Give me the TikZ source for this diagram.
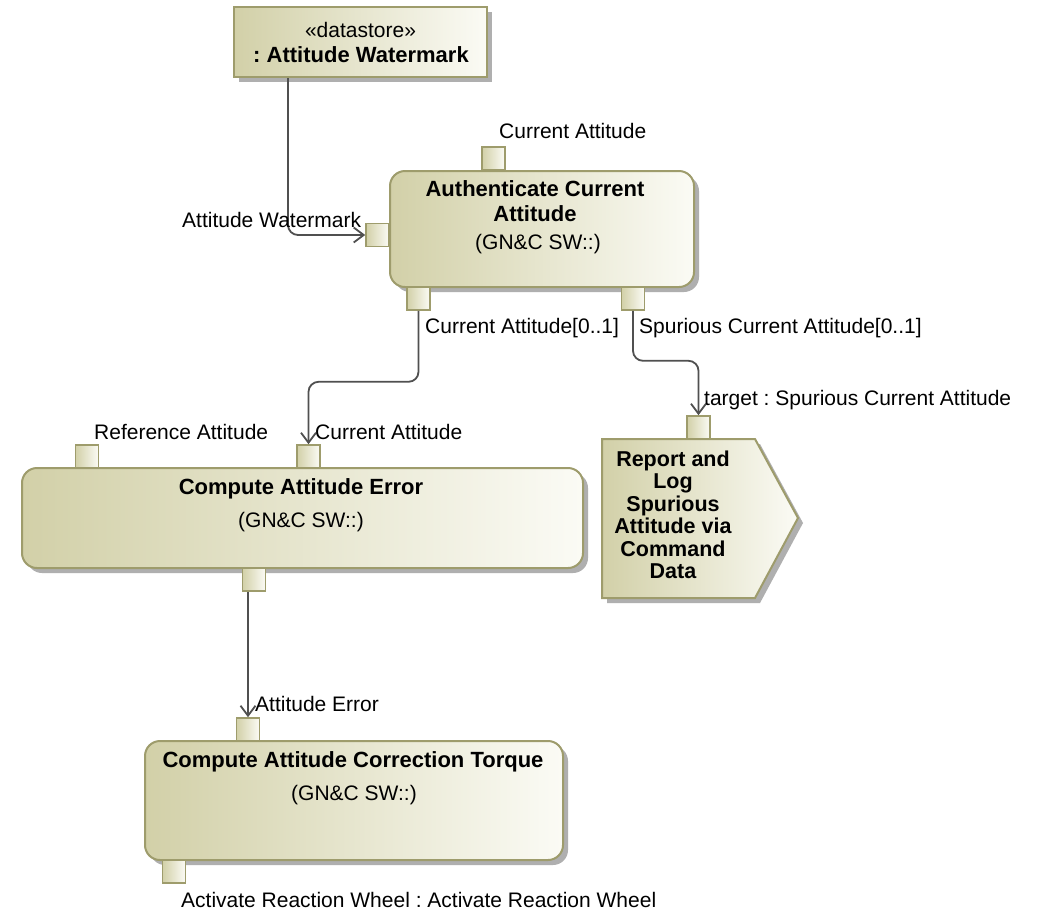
\documentclass[tikz,border=0pt]{standalone}
\usepackage{fontspec}
\setmainfont{Liberation Sans}
\usetikzlibrary{arrows.meta,shadows}
\frenchspacing

\definecolor{boxdark}{RGB}{210,208,168}
\definecolor{boxlight}{RGB}{251,251,245}
\definecolor{boxline}{RGB}{158,156,108}
\definecolor{shadowgray}{RGB}{175,175,175}
\definecolor{wire}{RGB}{80,80,80}

\tikzset{
  every node/.style={font=\fontsize{21}{25}\selectfont, inner sep=0pt},
  shaded box/.style={draw=boxline, line width=2pt, left color=boxdark, right color=boxlight},
  boxshadow/.style={drop shadow={shadow xshift=5pt, shadow yshift=-5pt, fill=shadowgray, opacity=1}},
  action/.style={shaded box, boxshadow, rounded corners=15pt},
  datastore/.style={shaded box, boxshadow},
  pin/.style={shaded box, line width=1.6pt, minimum size=23pt},
  title/.style={font=\bfseries\fontsize{22}{25}\selectfont, align=center},
  plain/.style={align=center},
  lbl/.style={anchor=west},
  flow/.style={draw=wire, line width=1.8pt, rounded corners=10pt,
    -{Straight Barb[length=10pt,width=15pt,line width=1.8pt]}}
}

\begin{document}
\begin{tikzpicture}[x=1pt,y=-1pt]
\useasboundingbox[fill=white] (0,0) rectangle (1038,914);

% object node: datastore
\node[datastore, minimum width=253pt, minimum height=70pt] (ds) at (360.5,42) {};
\node (dsK) at (360.5,30) {«datastore»};
\node[title] (dsN) at (361,55) {: Attitude Watermark};

% call behavior actions
\node[action, minimum width=304pt, minimum height=116pt] (auth) at (542,229) {};
\node[title] (authN1) at (535,189) {Authenticate Current};
\node[title] (authN2) at (535,214) {Attitude};
\node[plain] (authS) at (538,244) {(GN\&C SW::)};

\node[action, minimum width=561pt, minimum height=100pt] (err) at (302.5,518) {};
\node[title] (errN) at (301,489) {Compute Attitude Error};
\node[plain] (errS) at (301,522) {(GN\&C SW::)};

\node[action, minimum width=418pt, minimum height=119pt] (tq) at (354,800.5) {};
\node[title] (tqN) at (353,762) {Compute Attitude Correction Torque};
\node[plain] (tqS) at (354,795) {(GN\&C SW::)};

% send signal action
\path[shaded box, boxshadow] (602,439) -- (755,439) -- (798,518) -- (755,598) -- (602,598) -- cycle;
\node[title, font=\bfseries\fontsize{21.5}{22.5}\selectfont] (rep) at (673,515)
  {Report and\\Log\\Spurious\\Attitude via\\Command\\Data};

% pins
\node[pin] (pAuthT)  at (493.5,158.5) {};
\node[pin] (pAuthL)  at (377.5,235) {};
\node[pin] (pAuthB1) at (418.5,298.5) {};
\node[pin] (pAuthB2) at (633,298.5) {};
\node[pin] (pRepT)   at (698.5,427.5) {};
\node[pin] (pErrR)   at (87,456.5) {};
\node[pin] (pErrC)   at (308.5,456.5) {};
\node[pin] (pErrB)   at (254,579.5) {};
\node[pin] (pTqT)    at (248,729.5) {};
\node[pin] (pTqB)    at (174,871.5) {};

% object flows
\draw[flow] ([xshift=55pt]ds.south west) |- (pAuthL.west);
\draw[flow] (pAuthB1.south) -- ++(0,71) -| (pErrC.north);
\draw[flow] (pAuthB2.south) -- ++(0,50) -| (pRepT.north);
\draw[flow] (pErrB.south -| pTqT.north) -- (pTqT.north);

% pin labels
\node[lbl] (lAuthT)  at (499,131) {Current Attitude};
\node[lbl] (lAuthL)  at (182,220) {Attitude Watermark};
\node[lbl] (lAuthB1) at (425,328) {Current Attitude[0..1]};
\node[lbl] (lAuthB2) at (639,328) {Spurious Current Attitude[0..1]};
\node[lbl] (lRepT)   at (704,400) {target : Spurious Current Attitude};
\node[lbl] (lErrR)   at (94,432) {Reference Attitude};
\node[lbl] (lErrC)   at (315,432) {Current Attitude};
\node[lbl] (lTqT)    at (255,704) {Attitude Error};
\node[lbl] (lTqB)    at (181,900) {Activate Reaction Wheel : Activate Reaction Wheel};
\end{tikzpicture}
\end{document}
